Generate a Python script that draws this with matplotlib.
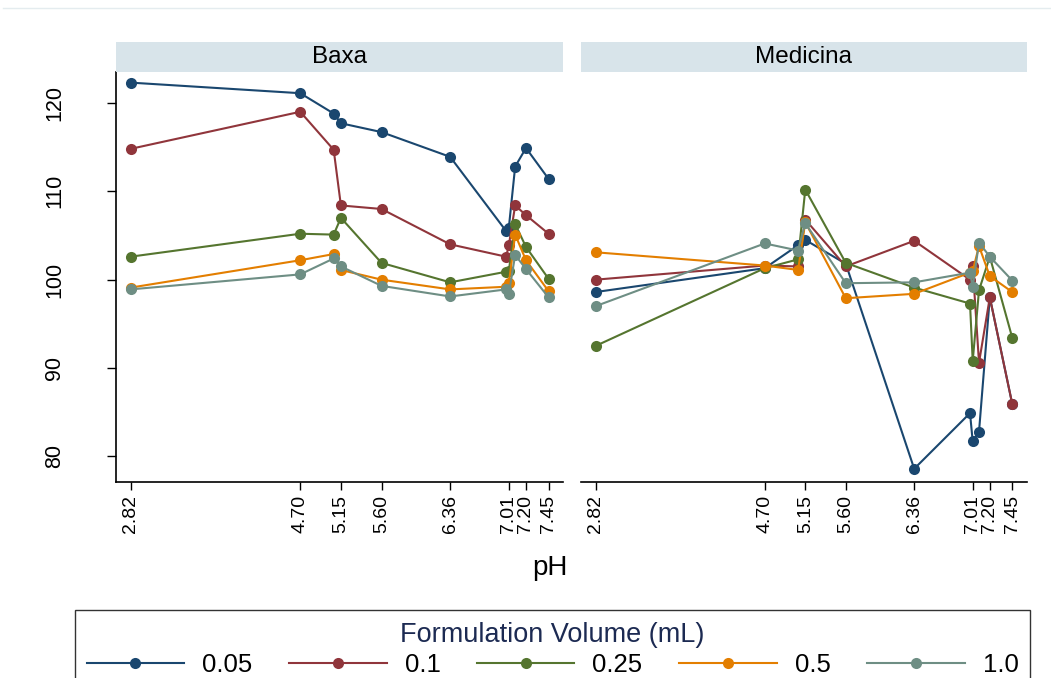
import matplotlib
matplotlib.use("Agg")
import matplotlib.pyplot as plt
from matplotlib.lines import Line2D

plt.rcParams['font.family'] = ['Liberation Sans', 'DejaVu Sans']

# measured pH of each sample (same for every series)
ph = [2.82, 4.70, 5.07, 5.15, 5.60, 6.36, 6.98, 7.01, 7.08, 7.20, 7.45]
ph_ticks = [2.82, 4.70, 5.15, 5.60, 6.36, 7.01, 7.20, 7.45]

volumes = ["0.05", "0.1", "0.25", "0.5", "1.0"]
colors = ["#1a476f", "#90353b", "#55752f", "#e37e00", "#6e8e84"]

# Baxa panel
baxa_005 = [122.3, 121.1, 118.8, 117.7, 116.7, 113.9, 105.5, 105.9, 112.8, 114.9, 111.4]
baxa_01 = [114.8, 119.0, 114.7, 108.4, 108.0, 104.0, 102.6, 103.9, 108.4, 107.3, 105.2]
baxa_025 = [102.6, 105.2, 105.1, 107.0, 101.9, 99.7, 100.9, 101.0, 106.3, 103.7, 100.1]
baxa_05 = [99.1, 102.2, 102.9, 101.1, 100.0, 98.9, 99.2, 99.6, 105.1, 102.2, 98.7]
baxa_10 = [98.9, 100.6, 102.4, 101.5, 99.3, 98.1, 98.9, 98.4, 102.8, 101.2, 98.0]

# Medicina panel
med_005 = [98.6, 101.3, 103.9, 104.5, 101.8, 78.6, 84.9, 81.7, 82.8, 98.0, 85.9]
med_01 = [100.0, 101.6, 101.5, 106.8, 101.5, 104.4, 100.0, 101.5, 90.6, 98.0, 85.9]
med_025 = [92.5, 101.3, 102.3, 110.2, 101.9, 99.1, 97.3, 90.8, 98.8, 102.6, 93.4]
med_05 = [103.1, 101.6, 101.1, 106.5, 97.9, 98.4, 100.8, 101.0, 103.8, 100.4, 98.6]
med_10 = [97.0, 104.1, 103.3, 106.4, 99.6, 99.7, 100.8, 99.2, 104.2, 102.6, 99.9]

panels = [
    ("Baxa", [baxa_005, baxa_01, baxa_025, baxa_05, baxa_10]),
    ("Medicina", [med_005, med_01, med_025, med_05, med_10]),
]

fig = plt.figure(figsize=(10.51, 6.78), dpi=100)
fig.patch.set_facecolor("white")

# faint outer border line at top
fig.add_artist(Line2D([0.003, 1.0], [0.988, 0.988], color="#e4ecef", lw=1,
                      transform=fig.transFigure))

ax_pos = [[0.110, 0.289, 0.4257, 0.6048], [0.5525, 0.289, 0.4244, 0.6048]]
handles = []
for i, (name, series) in enumerate(panels):
    ax = fig.add_axes(ax_pos[i])
    for vals, c in zip(series, colors):
        ln, = ax.plot(ph, vals, color=c, lw=1.5, marker="o", markersize=8,
                      markeredgewidth=0)
        if i == 0:
            handles.append(ln)
    ax.set_xlim(2.655, 7.61)
    ax.set_ylim(77.1, 123.5)
    ax.set_xticks(ph_ticks)
    ax.set_xticklabels([f"{t:.2f}" for t in ph_ticks], rotation=90, fontsize=14)
    ax.tick_params(axis="x", length=6, width=1, pad=3.5)
    ax.spines["top"].set_visible(False)
    ax.spines["right"].set_visible(False)
    ax.spines["bottom"].set_linewidth(1.2)
    if i == 0:
        ax.set_yticks([80, 90, 100, 110, 120])
        ax.tick_params(axis="y", length=6.5, width=1, pad=30, labelsize=15.5)
        for lab in ax.get_yticklabels():
            lab.set_rotation(90)
            lab.set_va("center")
        ax.spines["left"].set_linewidth(1.2)
    else:
        ax.spines["left"].set_visible(False)
        ax.set_yticks([])

    # panel header strip
    p = ax_pos[i]
    sax = fig.add_axes([p[0], 0.8938, p[2], 0.0442])
    sax.set_facecolor("#d8e4ea")
    sax.set_xticks([])
    sax.set_yticks([])
    for s in sax.spines.values():
        s.set_visible(False)
    sax.text(0.5, 0.5, name, ha="center", va="center", fontsize=17.5,
             transform=sax.transAxes)

fig.text(550 / 1051, 1 - 568 / 678, "pH", ha="center", va="center", fontsize=20)

leg = fig.legend(handles, volumes, ncol=5, loc="upper left",
                 bbox_to_anchor=(75 / 1051, -0.2, 955 / 1051, 0.2 + 1 - 610 / 678),
                 bbox_transform=fig.transFigure, mode="expand", borderaxespad=0,
                 title="Formulation Volume (mL)", title_fontsize=19.5, fontsize=18.5,
                 frameon=True, fancybox=False, edgecolor="black",
                 handlelength=3.8, handletextpad=0.7, borderpad=0.45,
                 labelspacing=0.2, markerscale=1.0)
leg.get_frame().set_linewidth(1.0)
leg.get_title().set_color("#1c2a52")

fig.savefig("out.png", dpi=100)
